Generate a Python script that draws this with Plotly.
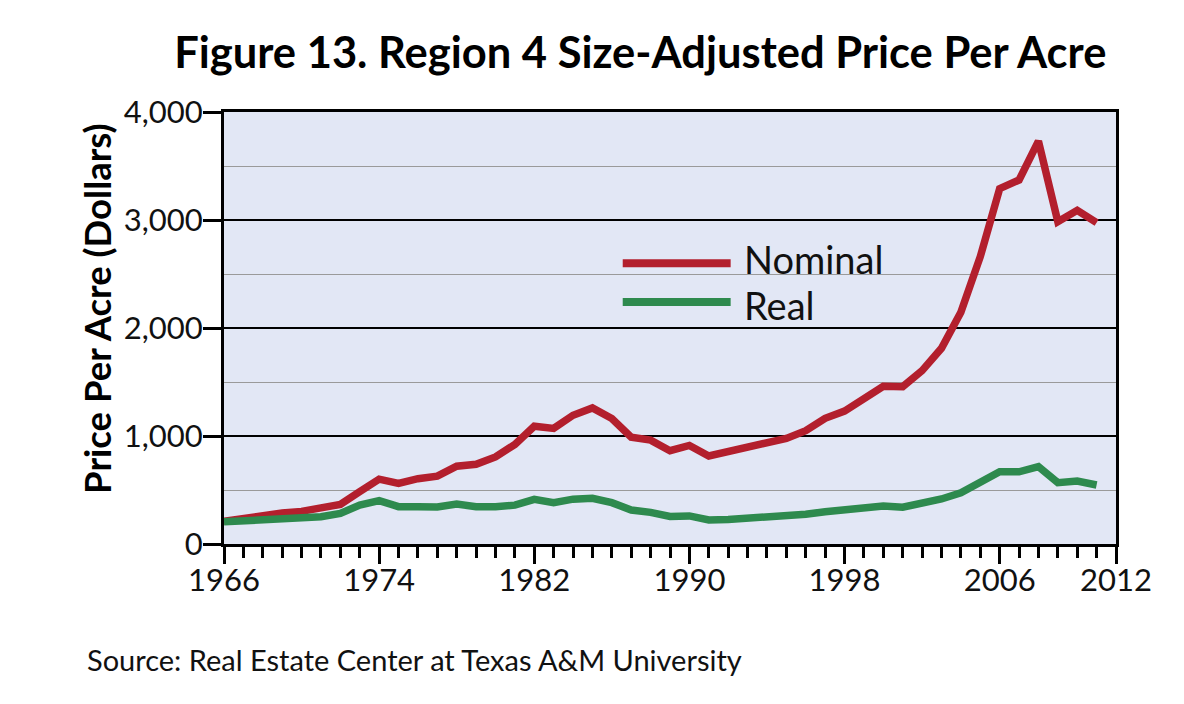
import plotly.graph_objects as go

years = list(range(1966, 2012))
nominal = [210, 238, 266, 288, 302, 330, 367, 485, 600, 562, 605, 628, 720, 738, 806, 922,
           1090, 1070, 1192, 1260, 1162, 988, 962, 864, 912, 815, 855, 895, 938, 978,
           1049, 1164, 1231, 1340, 1460, 1457, 1605, 1812, 2145, 2660, 3290, 3370, 3730,
           2985, 3090, 2975]
real = [205, 215, 222, 228, 232, 253, 284, 361, 401, 346, 346, 343, 370, 346, 346, 360,
        414, 383, 415, 423, 383, 315, 293, 255, 260, 222, 228, 238, 247, 253,
        275, 299, 315, 330, 352, 340, 370, 417, 475, 568, 670, 668, 716, 568, 583, 546]

x_ticks = [1966, 1974, 1982, 1990, 1998, 2006, 2012]
y_ticks = [0, 1000, 2000, 3000, 4000]
y_labels = ["0", "1,000", "2,000", "3,000", "4,000"]

RED = "#B31F2D"
GREEN = "#2E8A4E"
SANS = "Lato, 'Open Sans', sans-serif"

fig = go.Figure()
fig.add_trace(go.Scatter(x=years, y=nominal, mode="lines", name="Nominal",
                         line=dict(color=RED, width=7.5), showlegend=False))
fig.add_trace(go.Scatter(x=years, y=real, mode="lines", name="Real",
                         line=dict(color=GREEN, width=7.5), showlegend=False))

# legend drawn manually (long line samples)
fig.add_shape(type="line", xref="paper", yref="paper", x0=0.447, x1=0.568,
              y0=0.650, y1=0.650, line=dict(color=RED, width=8))
fig.add_shape(type="line", xref="paper", yref="paper", x0=0.447, x1=0.568,
              y0=0.560, y1=0.560, line=dict(color=GREEN, width=8))
fig.add_annotation(xref="paper", yref="paper", x=0.581, y=0.601, text="Nominal",
                   showarrow=False, xanchor="left", yanchor="bottom",
                   font=dict(family=SANS, size=38, color="#111"))
fig.add_annotation(xref="paper", yref="paper", x=0.581, y=0.612, text="Real",
                   showarrow=False, xanchor="left", yanchor="top",
                   font=dict(family=SANS, size=38, color="#111"))

# y-axis title
fig.add_annotation(xref="paper", yref="paper", x=-0.1425, y=0.544,
                   text="<b>Price Per Acre (Dollars)</b>", textangle=-90,
                   showarrow=False, xanchor="center", yanchor="middle",
                   font=dict(family=SANS, size=36.5, color="#000"))

fig.add_annotation(xref="paper", yref="paper", x=-0.156, y=-0.268,
                   text="Source: Real Estate Center at Texas A&M University",
                   showarrow=False, xanchor="left", yanchor="middle",
                   font=dict(family=SANS, size=29, color="#111"))

fig.update_layout(
    width=1184, height=704,
    margin=dict(l=216, r=76, t=104, b=168),
    paper_bgcolor="white",
    plot_bgcolor="#E2E7F5",
    title=dict(text="<b>Figure 13. Region 4 Size-Adjusted Price Per Acre</b>",
               x=0.534, xanchor="center", y=0.937, yanchor="middle",
               font=dict(family=SANS, size=43.5, color="#000")),
    xaxis=dict(range=[1966, 2012], tickvals=x_ticks, ticktext=[str(v) for v in x_ticks],
               ticks="outside", ticklen=17, tickwidth=3, tickcolor="#000",
               ticklabelstandoff=-10,
               showline=True, linecolor="#000", linewidth=3, mirror=True,
               showgrid=False, zeroline=False,
               minor=dict(dtick=1, tick0=1966, ticks="outside", ticklen=11, tickwidth=2.5,
                          tickcolor="#000", showgrid=False),
               tickfont=dict(family=SANS, size=31, color="#111")),
    yaxis=dict(range=[0, 4000], tickvals=y_ticks, ticktext=y_labels,
               ticks="outside", ticklen=18, tickwidth=3, tickcolor="#000",
               ticklabelstandoff=-6,
               showline=True, linecolor="#000", linewidth=3, mirror=True,
               showgrid=True, gridcolor="#000", gridwidth=1.5, zeroline=False,
               minor=dict(dtick=500, tick0=0, showgrid=True, gridcolor="#9A9A9A",
                          gridwidth=1.2, ticks=""),
               tickfont=dict(family=SANS, size=31, color="#111")),
)

fig.write_html("out.html")
